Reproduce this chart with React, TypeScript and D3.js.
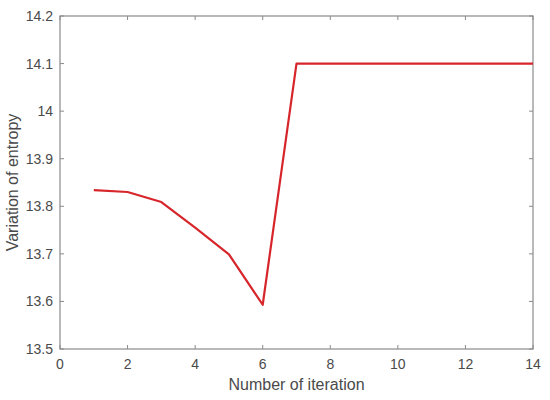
import React from "react";
import * as d3 from "d3";

const iterations = [1, 2, 3, 4, 5, 6, 7, 8, 9, 10, 11, 12, 13, 14];
const entropy = [13.834, 13.83, 13.809, 13.755, 13.699, 13.593, 14.1, 14.1, 14.1, 14.1, 14.1, 14.1, 14.1, 14.1];
const xTicks = [0, 2, 4, 6, 8, 10, 12, 14];
const yTicks = [13.5, 13.6, 13.7, 13.8, 13.9, 14, 14.1, 14.2];

export default function App() {
  const W = 550, H = 400;
  const left = 60, right = 533, top = 16, bottom = 349;
  const x = d3.scaleLinear().domain([0, 14]).range([left, right]);
  const y = d3.scaleLinear().domain([13.5, 14.2]).range([bottom, top]);
  const data = iterations.map((it, i) => [it, entropy[i]] as [number, number]);
  const line = d3.line<[number, number]>().x(d => x(d[0])).y(d => y(d[1]));
  const axisColor = "#8a8a8a";
  const textColor = "#4a4a4a";
  const font = "'Liberation Sans', Arial, sans-serif";
  return (
    <svg width={W} height={H} style={{ position: "absolute", left: 0, top: 0, background: "#fff" }}>
      <rect x={0} y={0} width={W} height={H} fill="#fff" />
      <rect x={left} y={top} width={right - left} height={bottom - top} fill="none" stroke={axisColor} strokeWidth={1.2} />
      {xTicks.map(t => (
        <g key={"x" + t}>
          <line x1={x(t)} x2={x(t)} y1={bottom} y2={bottom - 4} stroke={axisColor} />
          <line x1={x(t)} x2={x(t)} y1={top} y2={top + 4} stroke={axisColor} />
          <text x={x(t)} y={bottom + 20} textAnchor="middle" fontFamily={font} fontSize={14} fill={textColor}>{t}</text>
        </g>
      ))}
      {yTicks.map(t => (
        <g key={"y" + t}>
          <line x1={left} x2={left + 4} y1={y(t)} y2={y(t)} stroke={axisColor} />
          <line x1={right} x2={right - 4} y1={y(t)} y2={y(t)} stroke={axisColor} />
          <text x={left - 7} y={y(t) + 5} textAnchor="end" fontFamily={font} fontSize={14} fill={textColor}>{d3.format("")(+t.toFixed(1))}</text>
        </g>
      ))}
      <path d={line(data) || ""} fill="none" stroke="#d7262b" strokeWidth={2.2} strokeLinejoin="round" />
      <text x={(left + right) / 2} y={390} textAnchor="middle" fontFamily={font} fontSize={16} fill={textColor}>Number of iteration</text>
      <text transform={`translate(18, ${(top + bottom) / 2}) rotate(-90)`} textAnchor="middle" fontFamily={font} fontSize={16} fill={textColor}>Variation of entropy</text>
    </svg>
  );
}
